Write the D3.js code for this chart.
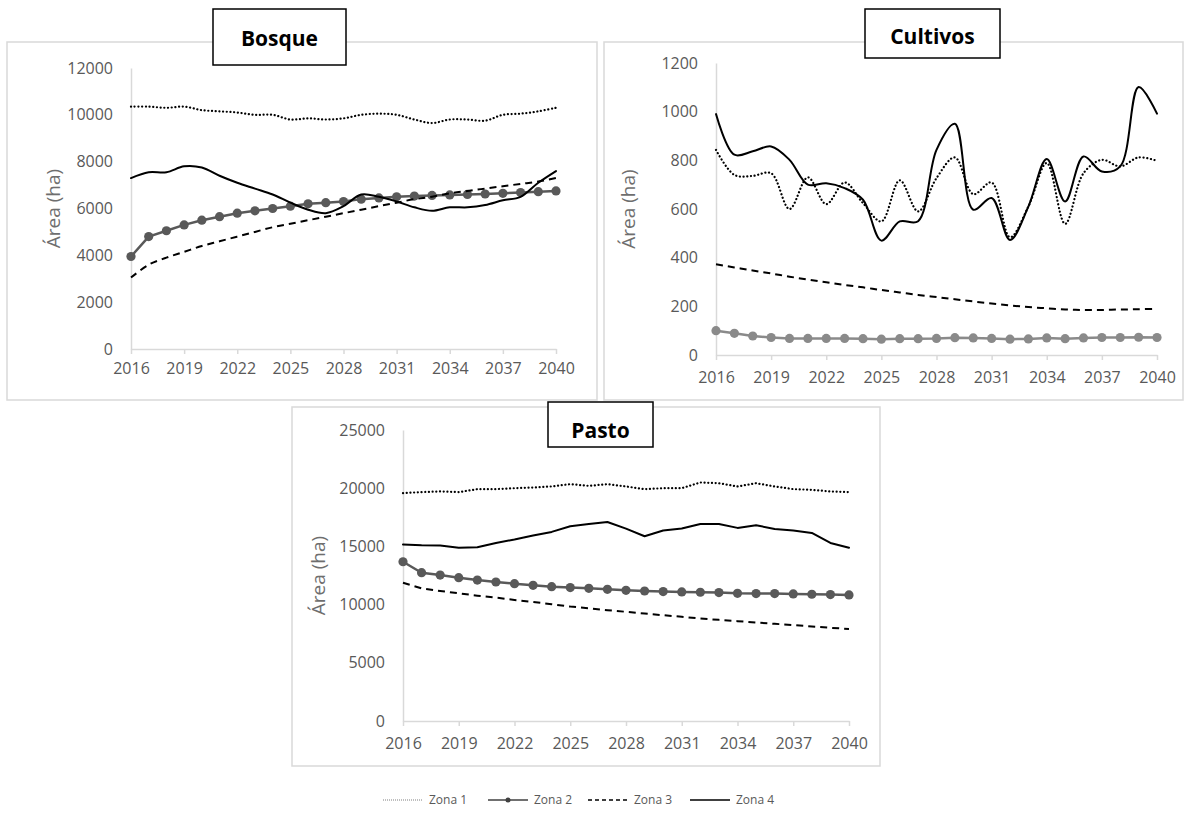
<!DOCTYPE html>
<html>
<head>
<meta charset="utf-8">
<script src="https://cdn.jsdelivr.net/npm/d3@7"></script>
<style>
  html, body { margin: 0; padding: 0; background: #ffffff; }
  svg { display: block; }
  text { font-family: "Open Sans", "Liberation Sans", sans-serif; }
</style>
</head>
<body>
<svg id="chart" width="1186" height="815"></svg>
<script>
// Years shown on the horizontal axis
const years = d3.range(2016, 2041);
const yearTicks = [2016, 2019, 2022, 2025, 2028, 2031, 2034, 2037, 2040];
const zones = ["Zona 1", "Zona 2", "Zona 3", "Zona 4"];

// Bosque (ha)
const bosqueZona1 = [10350, 10350, 10300, 10350, 10200, 10150, 10100, 10000, 10000, 9800, 9850, 9800, 9850, 10000, 10050, 10000, 9800, 9650, 9800, 9800, 9750, 10000, 10050, 10150, 10300];
const bosqueZona2 = [3950, 4800, 5050, 5300, 5500, 5650, 5800, 5900, 6000, 6100, 6200, 6250, 6300, 6400, 6450, 6500, 6530, 6560, 6580, 6600, 6620, 6650, 6680, 6720, 6750];
const bosqueZona3 = [3050, 3600, 3900, 4150, 4400, 4600, 4800, 5000, 5200, 5350, 5500, 5650, 5800, 5950, 6100, 6250, 6400, 6500, 6650, 6750, 6850, 6950, 7050, 7150, 7300];
const bosqueZona4 = [7300, 7550, 7550, 7800, 7750, 7400, 7100, 6850, 6600, 6250, 5950, 5800, 6100, 6600, 6500, 6300, 6050, 5900, 6050, 6050, 6150, 6350, 6500, 7100, 7600];
const bosqueTicks = [0, 2000, 4000, 6000, 8000, 10000, 12000];

// Cultivos (ha)
const cultivosZona1 = [843, 740, 736, 747, 600, 730, 620, 709, 624, 549, 718, 590, 727, 812, 661, 709, 484, 610, 789, 539, 747, 802, 775, 812, 798];
const cultivosZona2 = [100, 89, 78, 72, 68, 68, 68, 68, 67, 65, 67, 67, 68, 71, 70, 68, 65, 66, 70, 67, 70, 72, 72, 73, 72];
const cultivosZona3 = [373, 360, 347, 335, 322, 310, 299, 288, 278, 267, 257, 247, 238, 229, 220, 212, 204, 197, 192, 187, 185, 185, 187, 188, 190];
const cultivosZona4 = [990, 823, 837, 857, 802, 700, 706, 686, 638, 470, 549, 550, 843, 950, 597, 645, 473, 610, 805, 631, 816, 754, 775, 1101, 992];
const cultivosTicks = [0, 200, 400, 600, 800, 1000, 1200];

// Pasto (ha)
const pastoZona1 = [19580, 19665, 19720, 19665, 19920, 19920, 20000, 20060, 20150, 20350, 20200, 20350, 20150, 19920, 20000, 20000, 20490, 20430, 20150, 20430, 20150, 19920, 19860, 19720, 19665];
const pastoZona2 = [13680, 12740, 12540, 12310, 12110, 11940, 11800, 11660, 11540, 11460, 11400, 11310, 11230, 11170, 11115, 11090, 11060, 11030, 10970, 10950, 10950, 10920, 10890, 10860, 10830];
const pastoZona3 = [11880, 11400, 11170, 10970, 10770, 10600, 10400, 10230, 10030, 9830, 9690, 9520, 9380, 9230, 9090, 8950, 8800, 8690, 8580, 8460, 8350, 8240, 8120, 8010, 7900];
const pastoZona4 = [15160, 15100, 15080, 14880, 14930, 15300, 15590, 15930, 16245, 16730, 16930, 17100, 16530, 15870, 16360, 16530, 16930, 16930, 16590, 16815, 16500, 16360, 16160, 15300, 14880];
const pastoTicks = [0, 5000, 10000, 15000, 20000, 25000];

const svg = d3.select("#chart");
const frameColor = "#d9d9d9";
const labelColor = "#595959";

// Line style per zone
const zoneStyle = {
  "Zona 1": { stroke: "#000", width: 2.2, dash: "0.1,3.6", cap: "round" },
  "Zona 2": { stroke: "#595959", width: 2.5, dash: null, cap: "round", marker: true },
  "Zona 3": { stroke: "#000", width: 2, dash: "7,5", cap: "butt" },
  "Zona 4": { stroke: "#000", width: 2, dash: null, cap: "round" }
};

function drawPanel(cfg) {
  const g = svg.append("g");

  // Panel frame
  g.append("rect")
    .attr("x", cfg.frame[0]).attr("y", cfg.frame[1])
    .attr("width", cfg.frame[2] - cfg.frame[0]).attr("height", cfg.frame[3] - cfg.frame[1])
    .attr("fill", "#fff").attr("stroke", frameColor).attr("stroke-width", 1.5);

  const x = d3.scaleLinear().domain([2016, 2040]).range([cfg.x0, cfg.x1]);
  const y = d3.scaleLinear().domain([0, d3.max(cfg.ticks)]).range([cfg.y0, cfg.y1]);

  // Vertical axis
  const yAxis = g.append("g")
    .attr("transform", `translate(${cfg.x0},0)`)
    .call(d3.axisLeft(y).tickValues(cfg.ticks).tickSize(0).tickPadding(18).tickFormat(d3.format("d")));
  yAxis.select(".domain").attr("stroke", frameColor).attr("stroke-width", 1.5);
  yAxis.selectAll("text").attr("fill", labelColor).style("font-size", "16px");

  // Horizontal axis
  const xAxis = g.append("g")
    .attr("transform", `translate(0,${cfg.y0})`)
    .call(d3.axisBottom(x).tickValues(yearTicks).tickSize(5).tickSizeOuter(0).tickPadding(cfg.xPad).tickFormat(d3.format("d")));
  xAxis.select(".domain").attr("stroke", frameColor).attr("stroke-width", 1.5);
  xAxis.selectAll(".tick line").attr("stroke", frameColor).attr("stroke-width", 1.5);
  xAxis.selectAll("text").attr("fill", labelColor).style("font-size", "16px");

  // Axis title
  g.append("text")
    .attr("transform", `translate(${cfg.titleX},${(cfg.y0 + cfg.y1) / 2}) rotate(-90)`)
    .attr("text-anchor", "middle")
    .attr("dy", "0.35em")
    .attr("fill", "#6e6e6e")
    .style("font-size", "19px")
    .text("Área (ha)");

  // Series
  cfg.series.forEach((vals, i) => {
    const zone = zones[i];
    const st = zoneStyle[zone];
    const color = (zone === "Zona 2" && cfg.zona2Color) ? cfg.zona2Color : st.stroke;
    const smooth = cfg.smooth && zone !== "Zona 2";
    const line = d3.line()
      .x((d, j) => x(years[j]))
      .y(d => y(d))
      .curve(smooth ? d3.curveCatmullRom.alpha(0.5) : d3.curveLinear);
    g.append("path")
      .datum(vals)
      .attr("d", line)
      .attr("fill", "none")
      .attr("stroke", color)
      .attr("stroke-width", st.width)
      .attr("stroke-dasharray", st.dash)
      .attr("stroke-linecap", st.cap)
      .attr("stroke-linejoin", "round");
    if (st.marker) {
      g.selectAll(null)
        .data(vals)
        .enter().append("circle")
        .attr("cx", (d, j) => x(years[j]))
        .attr("cy", d => y(d))
        .attr("r", 4.6)
        .attr("fill", color);
    }
  });

  // Title box
  const b = cfg.titleBox;
  g.append("rect")
    .attr("x", b[0]).attr("y", b[1]).attr("width", b[2] - b[0]).attr("height", b[3] - b[1])
    .attr("fill", "#fff").attr("stroke", "#000").attr("stroke-width", 1.5);
  g.append("text")
    .attr("x", (b[0] + b[2]) / 2).attr("y", cfg.titleBaseline)
    .attr("text-anchor", "middle")
    .attr("fill", "#000")
    .style("font-size", "21px").style("font-weight", "bold")
    .text(cfg.title);
}

drawPanel({
  title: "Bosque",
  frame: [7, 42, 597, 400],
  titleBox: [213, 9, 346, 65],
  titleBaseline: 46,
  x0: 131, x1: 556, y0: 349, y1: 68,
  xPad: 9,
  titleX: 53,
  ticks: bosqueTicks,
  smooth: true,
  series: [bosqueZona1, bosqueZona2, bosqueZona3, bosqueZona4]
});

drawPanel({
  title: "Cultivos",
  frame: [604, 42, 1183, 400],
  titleBox: [865, 9, 1000, 58],
  titleBaseline: 44,
  x0: 716, x1: 1157, y0: 355, y1: 63,
  xPad: 12,
  titleX: 628,
  ticks: cultivosTicks,
  smooth: true,
  zona2Color: "#8a8a8a",
  series: [cultivosZona1, cultivosZona2, cultivosZona3, cultivosZona4]
});

drawPanel({
  title: "Pasto",
  frame: [292, 407, 880, 766],
  titleBox: [548, 402, 653, 447],
  titleBaseline: 438,
  x0: 403, x1: 849, y0: 721, y1: 430,
  xPad: 12,
  titleX: 318,
  ticks: pastoTicks,
  smooth: false,
  series: [pastoZona1, pastoZona2, pastoZona3, pastoZona4]
});

// Legend
const legendItems = [
  { zone: "Zona 1", x: 383 },
  { zone: "Zona 2", x: 488 },
  { zone: "Zona 3", x: 588 },
  { zone: "Zona 4", x: 690 }
];
const legendY = 800;
const lg = svg.append("g");
legendItems.forEach(it => {
  const st = zoneStyle[it.zone];
  lg.append("line")
    .attr("x1", it.x).attr("x2", it.x + 40)
    .attr("y1", legendY).attr("y2", legendY)
    .attr("stroke", it.zone === "Zona 1" ? "#7f7f7f" : (it.zone === "Zona 2" ? "#404040" : "#000"))
    .attr("stroke-width", it.zone === "Zona 1" ? 1 : 1.5)
    .attr("stroke-dasharray", it.zone === "Zona 1" ? "1,1" : (it.zone === "Zona 3" ? "4,3" : null));
  if (st.marker) {
    lg.append("circle").attr("cx", it.x + 20).attr("cy", legendY).attr("r", 2.5).attr("fill", "#404040");
  }
  lg.append("text")
    .attr("x", it.x + 46).attr("y", legendY)
    .attr("dy", "0.35em")
    .attr("fill", labelColor)
    .style("font-size", "12px")
    .text(it.zone);
});
</script>
</body>
</html>
